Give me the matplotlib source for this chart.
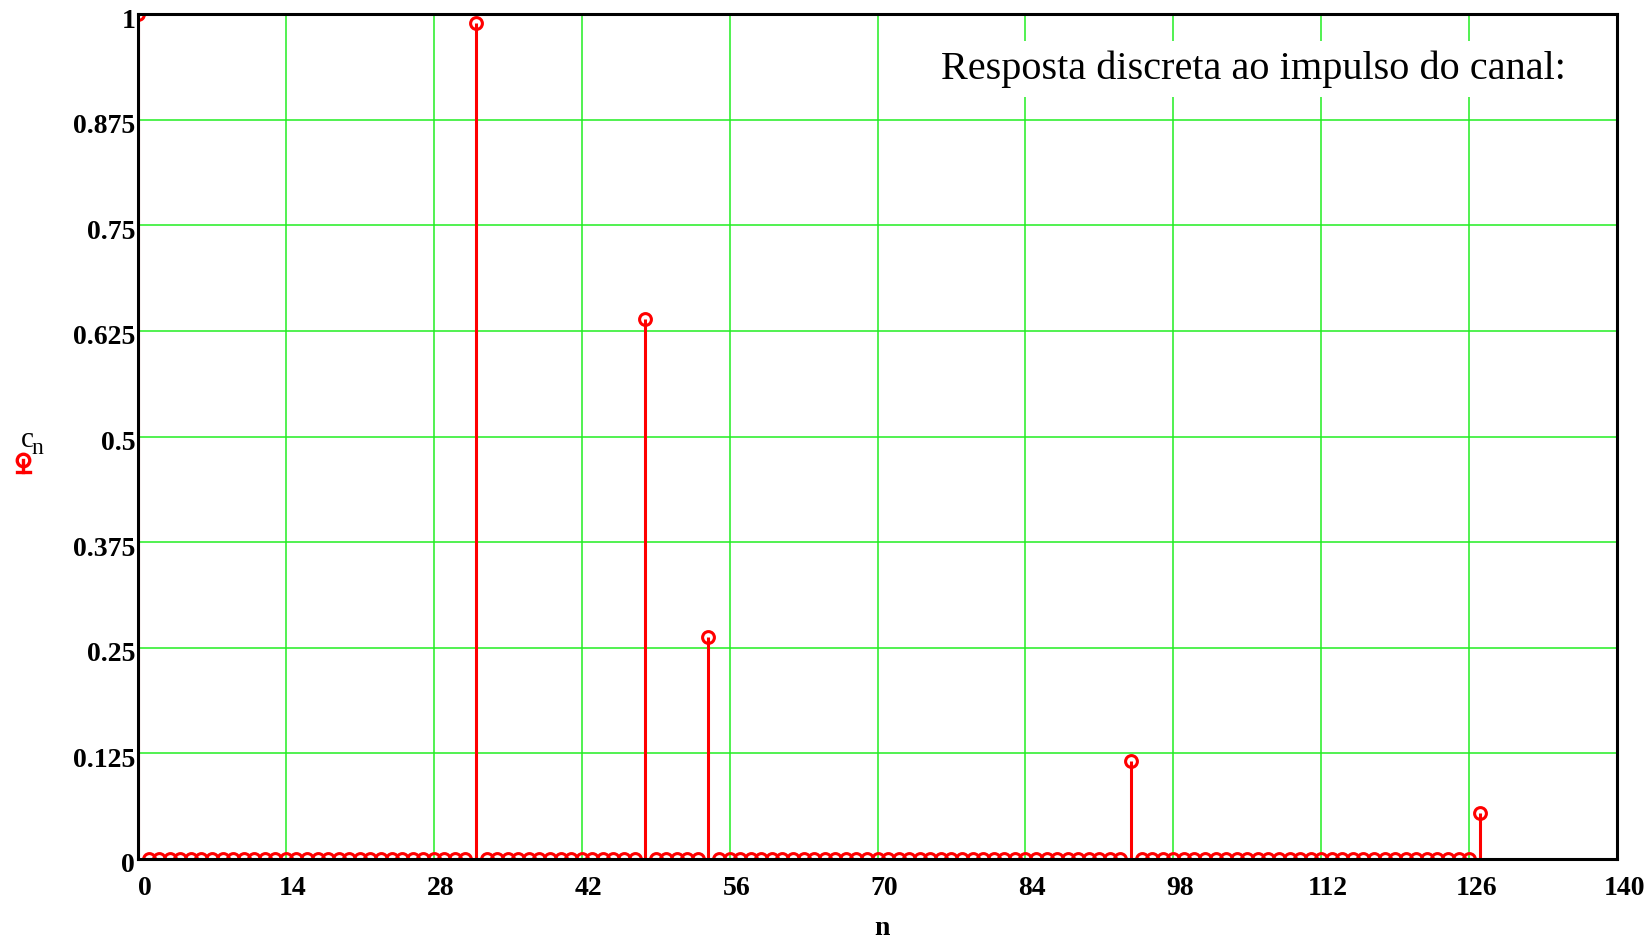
import matplotlib
matplotlib.use("Agg")
import matplotlib.pyplot as plt
import matplotlib.transforms as mtransforms
from matplotlib.lines import Line2D

# amostras do canal (n = 0 .. 127), quase todas nulas
n = list(range(128))
picos_n = [0, 32, 48, 54, 94, 127]
picos_c = [1.0, 0.989, 0.639, 0.263, 0.116, 0.054]
c = [0.0] * len(n)
for k, v in zip(picos_n, picos_c):
    c[k] = v

xticks = [0, 14, 28, 42, 56, 70, 84, 98, 112, 126, 140]
yticks = [0, 0.125, 0.25, 0.375, 0.5, 0.625, 0.75, 0.875, 1]
ylabels = ["0", "0.125", "0.25", "0.375", "0.5", "0.625", "0.75", "0.875", "1"]

plt.rcParams["font.family"] = ["Liberation Serif", "DejaVu Serif"]

fig = plt.figure(figsize=(16.51, 9.40), dpi=100)
ax = fig.add_axes([138 / 1651, 1 - 859 / 940, (1617 - 138) / 1651, (859 - 14) / 940])

vermelho = "#ff0000"
ax.vlines(n, 0, c, color=vermelho, lw=2.2, zorder=3)
ax.plot(n, c, "o", mfc="none", mec=vermelho, mew=2.2, ms=8.5, zorder=4)

ax.set_xlim(0, 140)
ax.set_ylim(0, 1)
ax.set_xticks(xticks)
ax.set_yticks(yticks)
ax.set_yticklabels(ylabels)
ax.grid(True, color="#22ee22", lw=1.1, zorder=1)
ax.tick_params(length=0, labelsize=20)
ax.tick_params(axis="x", pad=12)
ax.tick_params(axis="y", pad=2)
for lab in ax.get_xticklabels():
    lab.set_fontweight("bold")
    lab.set_transform(lab.get_transform() + mtransforms.ScaledTranslation(7 / 100, 0, fig.dpi_scale_trans))
for lab in ax.get_yticklabels():
    lab.set_fontweight("bold")
    lab.set_transform(lab.get_transform() + mtransforms.ScaledTranslation(0, -4 / 100, fig.dpi_scale_trans))
for s in ax.spines.values():
    s.set_linewidth(2.2)
    s.set_zorder(5)

ax.text(0.9655, 0.935, "Resposta discreta ao impulso do canal:", transform=ax.transAxes,
        ha="right", va="center", fontsize=29,
        bbox=dict(facecolor="white", edgecolor="none", pad=7), zorder=6)

fig.text(838 * 1.053 / 1651, 1 - 882 * 1.053 / 940, "n", ha="center", va="center",
         fontsize=20, fontweight="bold")

# rotulo do eixo y: c com indice n e simbolo do traco
fig.text(20 * 1.053 / 1651, 1 - 418 * 1.053 / 940, "c", ha="left", va="center", fontsize=21)
fig.text(30 * 1.053 / 1651, 1 - 426 * 1.053 / 940, "n", ha="left", va="center", fontsize=17)
xs = 22 * 1.053 / 1651
fig.add_artist(Line2D([xs], [1 - 437 * 1.053 / 940], marker="o", mfc="none", mec=vermelho,
                      mew=2.4, ms=9, transform=fig.transFigure))
fig.add_artist(Line2D([xs, xs], [1 - 437 * 1.053 / 940, 1 - 448 * 1.053 / 940], color=vermelho,
                      lw=2.4, transform=fig.transFigure))
fig.add_artist(Line2D([xs - 0.004, xs + 0.004], [1 - 448 * 1.053 / 940] * 2, color=vermelho,
                      lw=2.4, transform=fig.transFigure))

fig.savefig("out.png", dpi=100)
